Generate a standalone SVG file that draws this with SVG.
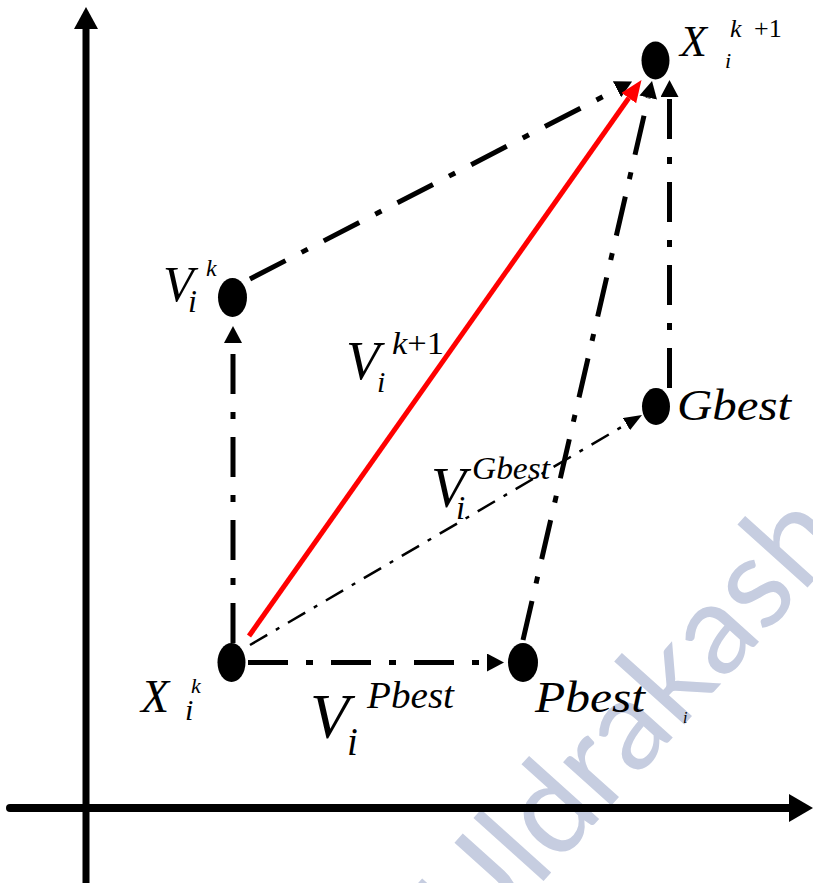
<svg xmlns="http://www.w3.org/2000/svg" width="813" height="883" viewBox="0 0 813 883">
<style>
.m{font-family:"Liberation Serif","Times New Roman",serif;font-style:italic;fill:#000}
.u{font-style:normal}
.dd{fill:none;stroke:#000;stroke-width:5;stroke-dasharray:40 18 7 18}
.thin{fill:none;stroke:#000;stroke-width:2.5;stroke-dasharray:20 10 4 10}
.node{fill:#000}
.wm{font-family:Lato,"Liberation Sans",Arial,sans-serif;font-weight:400;fill:#c6cde0;font-size:128px}
</style>
<defs>
<marker id="ah" markerUnits="userSpaceOnUse" viewBox="0 0 17 18" refX="0" refY="9" markerWidth="17" markerHeight="18" orient="auto"><path d="M0,0 L17,9 L0,18 z" fill="#000"/></marker>
<marker id="ahs" markerUnits="userSpaceOnUse" viewBox="0 0 18 14" refX="0" refY="7" markerWidth="18" markerHeight="14" orient="auto"><path d="M0,0 L18,7 L0,14 z" fill="#000"/></marker>
<marker id="ahr" markerUnits="userSpaceOnUse" viewBox="0 0 22 18" refX="0" refY="9" markerWidth="22" markerHeight="18" orient="auto"><path d="M0,0 L22,9 L0,18 z" fill="#f00"/></marker>
</defs>
<rect width="813" height="883" fill="#fff"/>
<g id="watermark"><text class="wm" transform="translate(475,957) rotate(-48)">Uldrakash</text></g>
<g id="axes">
<line x1="86" y1="883" x2="86" y2="28" stroke="#000" stroke-width="7"/>
<path d="M86,7 L98,29 L74,29 z" fill="#000"/>
<line x1="10" y1="808" x2="790" y2="808" stroke="#000" stroke-width="8" stroke-linecap="round"/>
<path d="M813,808 L789,794 L789,822 z" fill="#000"/>
</g>
<g id="connectors">
<path class="dd" d="M233,643 L233,343" marker-end="url(#ah)"/>
<path class="dd" d="M248,662.5 L487,662.5" marker-end="url(#ah)"/>
<path class="dd" d="M250,279 L617,89.3" marker-end="url(#ah)"/>
<path class="dd" d="M523,640 L648.2,97.6" marker-end="url(#ah)"/>
<path class="dd" d="M669.5,388 L669.5,97" marker-end="url(#ah)"/>
<path class="thin" d="M250,645 L626.5,424.1" marker-end="url(#ahs)"/>
<path d="M249,636 L628.8,98" fill="none" stroke="#f00" stroke-width="5" marker-end="url(#ahr)"/>
</g>
<g id="node-xk">
<ellipse class="node" cx="231.5" cy="662.5" rx="14" ry="19.5"/>
<text class="m" x="141" y="712" font-size="46">X</text>
<text class="m" x="185" y="720" font-size="30">i</text>
<text class="m" x="191" y="693" font-size="22">k</text>
</g>
<g id="node-vk">
<ellipse class="node" cx="232.5" cy="297.5" rx="14.5" ry="19.5"/>
<text class="m" x="163" y="301" font-size="50">V</text>
<text class="m" x="188" y="312" font-size="32">i</text>
<text class="m" x="206" y="276" font-size="24">k</text>
</g>
<g id="node-xk1">
<ellipse class="node" cx="655.5" cy="60.5" rx="14" ry="19"/>
<text class="m" x="680" y="56" font-size="44">X</text>
<text class="m" x="725" y="68" font-size="22">i</text>
<text class="m" x="730" y="37" font-size="26">k</text>
<text class="m u" x="754" y="37" font-size="26">+1</text>
</g>
<g id="node-gbest">
<ellipse class="node" cx="656" cy="406.5" rx="14" ry="18.5"/>
<text class="m" x="677" y="420" font-size="45" textLength="114" lengthAdjust="spacingAndGlyphs">Gbest</text>
</g>
<g id="node-pbest">
<ellipse class="node" cx="523" cy="662.5" rx="15" ry="19.5"/>
<text class="m" x="535" y="712" font-size="44" textLength="110" lengthAdjust="spacingAndGlyphs">Pbest</text>
<text class="m" x="683" y="723" font-size="16">i</text>
</g>
<g id="label-vk1">
<text class="m" x="346" y="379" font-size="55">V</text>
<text class="m" x="377" y="392" font-size="30">i</text>
<text class="m" x="392" y="354" font-size="32" textLength="52" lengthAdjust="spacingAndGlyphs">k<tspan class="u">+1</tspan></text>
</g>
<g id="label-vgbest">
<text class="m" x="431" y="507" font-size="57">V</text>
<text class="m" x="456" y="519" font-size="33">i</text>
<text class="m" x="472" y="479" font-size="32" textLength="78" lengthAdjust="spacingAndGlyphs">Gbest</text>
</g>
<g id="label-vpbest">
<text class="m" x="310" y="738" font-size="64">V</text>
<text class="m" x="347" y="755" font-size="39">i</text>
<text class="m" x="367" y="708" font-size="37" textLength="87" lengthAdjust="spacingAndGlyphs">Pbest</text>
</g>
</svg>
